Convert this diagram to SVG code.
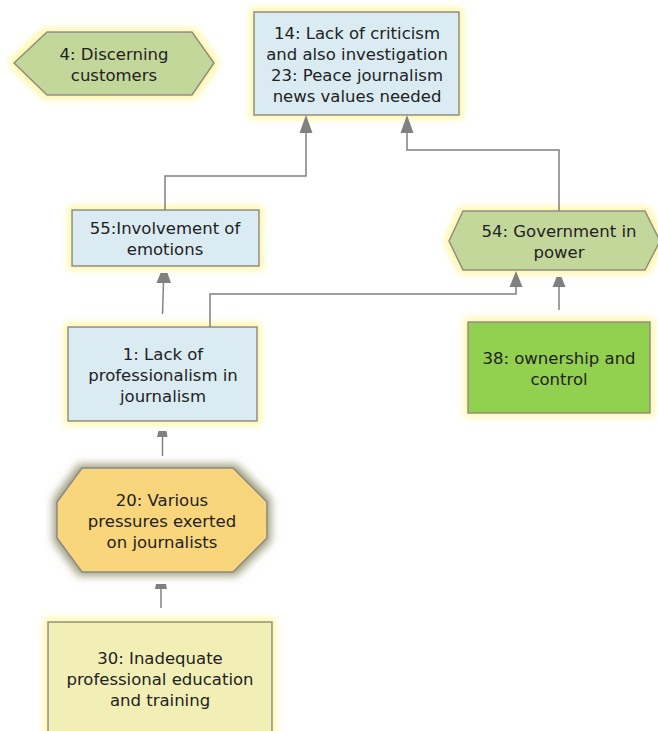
<svg xmlns="http://www.w3.org/2000/svg" width="658" height="731" viewBox="0 0 658 731">
  <defs>
    <!-- soft yellow halo behind most nodes -->
    <filter id="glow" x="-20%" y="-30%" width="140%" height="160%">
      <feMorphology in="SourceAlpha" operator="dilate" radius="3" result="d"/>
      <feGaussianBlur in="d" stdDeviation="3.5" result="b"/>
      <feFlood flood-color="#fff69a" flood-opacity="0.95"/>
      <feComposite in2="b" operator="in" result="g"/>
      <feMerge>
        <feMergeNode in="g"/>
        <feMergeNode in="SourceGraphic"/>
      </feMerge>
    </filter>
    <!-- darker olive halo for the pressure node -->
    <filter id="glowDark" x="-20%" y="-30%" width="140%" height="160%">
      <feMorphology in="SourceAlpha" operator="dilate" radius="3" result="d"/>
      <feGaussianBlur in="d" stdDeviation="4" result="b"/>
      <feFlood flood-color="#87855a" flood-opacity="0.8"/>
      <feComposite in2="b" operator="in" result="g"/>
      <feMerge>
        <feMergeNode in="g"/>
        <feMergeNode in="SourceGraphic"/>
      </feMerge>
    </filter>
  </defs>
  <style>
    .box { stroke: #8a8a8a; stroke-width: 1.5; }
    .blue { fill: #daebf2; }
    .olive { fill: #c4d79b; }
    .green { fill: #92d050; }
    .amber { fill: #f9d57b; }
    .cream { fill: #f1efb6; }
    .lbl { font-family: "DejaVu Sans", Verdana, sans-serif; font-size: 16.5px; fill: #222; text-anchor: middle; }
    .wire { fill: none; stroke: #808080; stroke-width: 1.5; }
    .head { fill: #808080; }
  </style>

  <rect width="658" height="731" fill="#ffffff"/>

  <!-- nodes -->
  <g id="node-4">
    <polygon class="box olive" filter="url(#glow)" points="14,63 47,32 192,32 214,63 192,95 47,95"/>
    <text class="lbl" x="114" y="60">4: Discerning</text>
    <text class="lbl" x="114" y="81">customers</text>
  </g>

  <g id="node-14">
    <rect class="box blue" filter="url(#glow)" x="254" y="12" width="205" height="103"/>
    <text class="lbl" x="357" y="39">14: Lack of criticism</text>
    <text class="lbl" x="357" y="60">and also investigation</text>
    <text class="lbl" x="357" y="81">23: Peace journalism</text>
    <text class="lbl" x="357" y="102">news values needed</text>
  </g>

  <g id="node-55">
    <rect class="box blue" filter="url(#glow)" x="72" y="210" width="187" height="56"/>
    <text class="lbl" x="165" y="234">55:Involvement of</text>
    <text class="lbl" x="165" y="255">emotions</text>
  </g>

  <g id="node-54">
    <polygon class="box olive" filter="url(#glow)" points="449,241 463,211 645,211 660,241 645,270 463,270"/>
    <text class="lbl" x="559" y="237">54: Government in</text>
    <text class="lbl" x="559" y="258">power</text>
  </g>

  <g id="node-38">
    <rect class="box green" filter="url(#glow)" x="468" y="322" width="182" height="91"/>
    <text class="lbl" x="559" y="364">38: ownership and</text>
    <text class="lbl" x="559" y="385">control</text>
  </g>

  <g id="node-1">
    <rect class="box blue" filter="url(#glow)" x="68" y="327" width="189" height="94"/>
    <text class="lbl" x="163" y="360">1: Lack of</text>
    <text class="lbl" x="163" y="381">professionalism in</text>
    <text class="lbl" x="163" y="402">journalism</text>
  </g>

  <g id="node-20">
    <polygon class="box amber" filter="url(#glowDark)" points="82,468 233,468 267,502 267,538 233,572 82,572 57,538 57,502"/>
    <text class="lbl" x="162" y="506">20: Various</text>
    <text class="lbl" x="162" y="527">pressures exerted</text>
    <text class="lbl" x="162" y="548">on journalists</text>
  </g>

  <g id="node-30">
    <rect class="box cream" filter="url(#glow)" x="48" y="622" width="224" height="120"/>
    <text class="lbl" x="160" y="664">30: Inadequate</text>
    <text class="lbl" x="160" y="685">professional education</text>
    <text class="lbl" x="160" y="706">and training</text>
  </g>

  <!-- connectors -->
  <g id="connectors">
    <!-- 55 -> 14 -->
    <polyline class="wire" points="165,210 165,176 306,176 306,130"/>
    <polygon class="head" points="306,115 312.5,133 299.5,133"/>
    <!-- 54 -> 14 -->
    <polyline class="wire" points="559,211 559,150 407,150 407,130"/>
    <polygon class="head" points="407,115 413.5,133 400.5,133"/>
    <!-- 1 -> 55 -->
    <line class="wire" x1="162.5" y1="314" x2="163.5" y2="282"/>
    <polygon class="head" points="160.5,273 167.5,273 171,283 156.5,283"/>
    <!-- 1 -> 54 -->
    <polyline class="wire" points="210,327 210,294 516,294 516,285"/>
    <polygon class="head" points="516,271 522.5,287 509.5,287"/>
    <!-- 38 -> 54 -->
    <line class="wire" x1="559" y1="310" x2="559" y2="286"/>
    <polygon class="head" points="556.5,277 561.5,277 565.5,287 552.5,287"/>
    <!-- 20 -> 1 -->
    <line class="wire" x1="162.5" y1="456" x2="162.5" y2="436"/>
    <polygon class="head" points="158.5,431 166.5,431 167.5,437 157,437"/>
    <!-- 30 -> 20 -->
    <line class="wire" x1="161" y1="608" x2="161" y2="588"/>
    <polygon class="head" points="156,584 166,584 167,589 155,589"/>
  </g>
</svg>
